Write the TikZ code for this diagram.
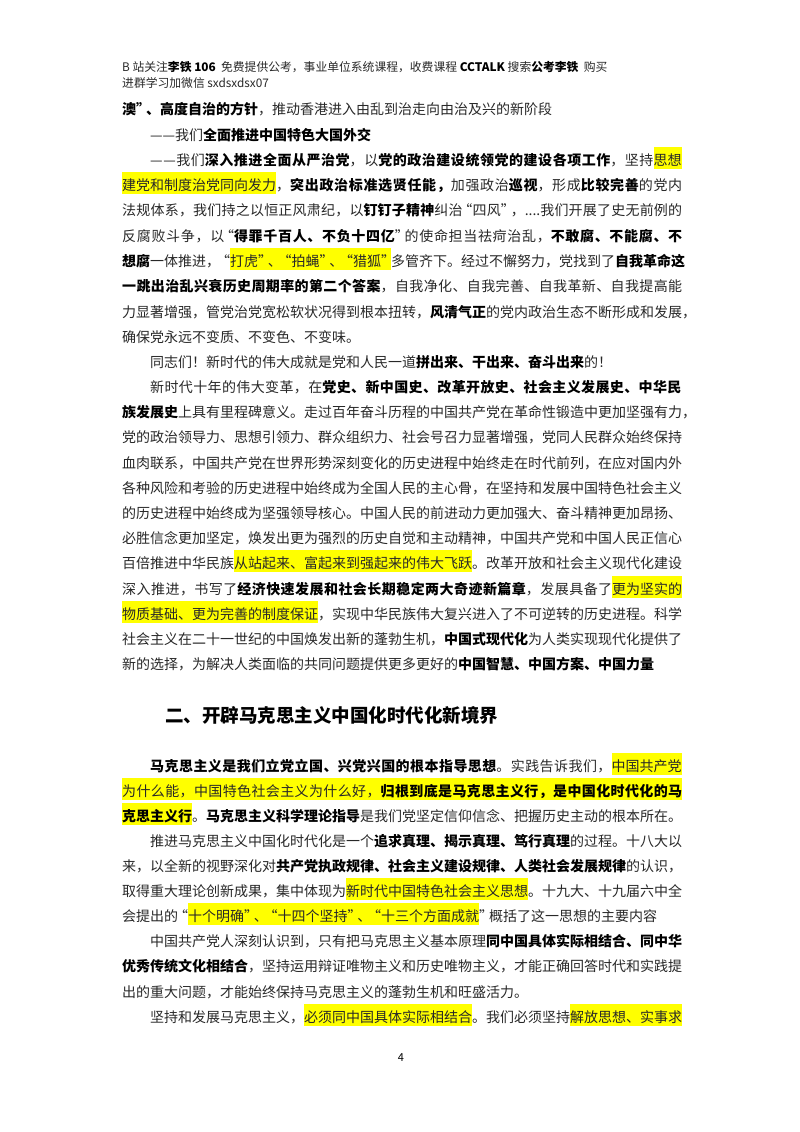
\documentclass[tikz,border=0pt]{standalone}
\usepackage{fontspec}
\setmainfont{Noto Sans CJK SC}
\XeTeXinterchartokenstate=1
\newXeTeXintercharclass\cjkcls
\count255="4E00
\loop\ifnum\count255<"A000 \XeTeXcharclass\count255=\cjkcls \advance\count255 by 1 \repeat
\count255="3000
\loop\ifnum\count255<"3040 \XeTeXcharclass\count255=\cjkcls \advance\count255 by 1 \repeat
\count255="FF00
\loop\ifnum\count255<"FF60 \XeTeXcharclass\count255=\cjkcls \advance\count255 by 1 \repeat
\XeTeXcharclass"201C=\cjkcls \XeTeXcharclass"201D=\cjkcls \XeTeXcharclass"2014=\cjkcls
\XeTeXinterchartoks\cjkcls\cjkcls={\hskip0pt plus 3pt\relax}
\definecolor{hly}{RGB}{255,255,0}
\definecolor{txt}{RGB}{40,40,40}
\newcommand{\hlt}[1]{{\setlength{\fboxsep}{0pt}\colorbox{hly}{\rule[-3.5pt]{0pt}{22pt}#1}}}
\newcommand{\bb}[1]{{\bfseries\color{black}#1}}
\newcommand{\oq}{\hspace{-0.3em}“}
\newcommand{\cq}{”\hspace{-0.3em}}
\newcommand{\full}[1]{\hbox to 560pt{#1}}
\newcommand{\fulli}[1]{\hbox to 531.3pt{#1}}
\begin{document}
\begin{tikzpicture}[x=1pt,y=-1pt,
  ln/.style={anchor=base west,inner sep=0pt,text=txt,font=\fontsize{14.0pt}{25pt}\selectfont},
  hd/.style={anchor=base west,inner sep=0pt,text=txt,font=\fontsize{11.8pt}{14pt}\selectfont},
  ttl/.style={anchor=base west,inner sep=0pt,text=black,font=\fontsize{18.5pt}{22pt}\selectfont\bfseries}]
\useasboundingbox[fill=white] (0,0) rectangle (800,1132);
\def\L{122}\def\I{150}
\node[hd] (h1) at (\L,71) {B 站关注\bb{李铁 106} \ 免费提供公考，事业单位系统课程，收费课程 \bb{CCTALK} 搜索\bb{公考李铁} \ 购买};
\node[hd] (h2) at (\L,87) {进群学习加微信 sxdsxdsx07};
\node[ln] (l1) at (\L,114) {\bb{澳\cq、高度自治的方针}，推动香港进入由乱到治走向由治及兴的新阶段};
\node[ln] (l2) at (\I,140) {——我们\bb{全面推进中国特色大国外交}};
\node[ln] (l3) at (\I,165) {\fulli{——我们\bb{深入推进全面从严治党}，以\bb{党的政治建设统领党的建设各项工作}，坚持\hlt{思想}}};
\node[ln] (l4) at (\L,190) {\full{\hlt{建党和制度治党同向发力}，\bb{突出政治标准选贤任能，}加强政治\bb{巡视}，形成\bb{比较完善}的党内}};
\node[ln] (l5) at (\L,215) {\full{法规体系，我们持之以恒正风肃纪，以\bb{钉钉子精神}纠治\oq 四风\cq，....我们开展了史无前例的}};
\node[ln] (l6) at (\L,241) {\full{反腐败斗争，以\oq\bb{得罪千百人、不负十四亿}\cq 的使命担当祛疴治乱，\bb{不敢腐、不能腐、不}}};
\node[ln] (l7) at (\L,266) {\full{\bb{想腐}一体推进，\oq\hlt{打虎\cq、\oq 拍蝇\cq、\oq 猎狐\cq}多管齐下。经过不懈努力，党找到了\bb{自我革命这}}};
\node[ln] (l8) at (\L,291) {\full{\bb{一跳出治乱兴衰历史周期率的第二个答案}，自我净化、自我完善、自我革新、自我提高能}};
\node[ln] (l9) at (\L,317) {\full{力显著增强，管党治党宽松软状况得到根本扭转，\bb{风清气正}的党内政治生态不断形成和发展，}};
\node[ln] (l10) at (\L,342) {确保党永远不变质、不变色、不变味。};
\node[ln] (l11) at (\I,367) {同志们！新时代的伟大成就是党和人民一道\bb{拼出来、干出来、奋斗出来}的！};
\node[ln] (l12) at (\I,392) {\fulli{新时代十年的伟大变革，在\bb{党史、新中国史、改革开放史、社会主义发展史、中华民}}};
\node[ln] (l13) at (\L,417) {\full{\bb{族发展史}上具有里程碑意义。走过百年奋斗历程的中国共产党在革命性锻造中更加坚强有力，}};
\node[ln] (l14) at (\L,442) {\full{党的政治领导力、思想引领力、群众组织力、社会号召力显著增强，党同人民群众始终保持}};
\node[ln] (l15) at (\L,468) {\full{血肉联系，中国共产党在世界形势深刻变化的历史进程中始终走在时代前列，在应对国内外}};
\node[ln] (l16) at (\L,493) {\full{各种风险和考验的历史进程中始终成为全国人民的主心骨，在坚持和发展中国特色社会主义}};
\node[ln] (l17) at (\L,518) {\full{的历史进程中始终成为坚强领导核心。中国人民的前进动力更加强大、奋斗精神更加昂扬、}};
\node[ln] (l18) at (\L,543) {\full{必胜信念更加坚定，焕发出更为强烈的历史自觉和主动精神，中国共产党和中国人民正信心}};
\node[ln] (l19) at (\L,568) {\full{百倍推进中华民族\hlt{从站起来、富起来到强起来的伟大飞跃}。改革开放和社会主义现代化建设}};
\node[ln] (l20) at (\L,594) {\full{深入推进，书写了\bb{经济快速发展和社会长期稳定两大奇迹新篇章}，发展具备了\hlt{更为坚实的}}};
\node[ln] (l21) at (\L,619) {\full{\hlt{物质基础、更为完善的制度保证}，实现中华民族伟大复兴进入了不可逆转的历史进程。科学}};
\node[ln] (l22) at (\L,644) {\full{社会主义在二十一世纪的中国焕发出新的蓬勃生机，\bb{中国式现代化}为人类实现现代化提供了}};
\node[ln] (l23) at (\L,669) {新的选择，为解决人类面临的共同问题提供更多更好的\bb{中国智慧、中国方案、中国力量}};
\node[ttl] (t) at (165,722) {二、开辟马克思主义中国化时代化新境界};
\node[ln] (m1) at (\I,771) {\fulli{\bb{马克思主义是我们立党立国、兴党兴国的根本指导思想}。实践告诉我们，\hlt{中国共产党}}};
\node[ln] (m2) at (\L,796) {\hlt{\full{为什么能，中国特色社会主义为什么好，\bb{归根到底是马克思主义行，是中国化时代化的马}}}};
\node[ln] (m3) at (\L,821) {\full{\hlt{\bb{克思主义行}}。\bb{马克思主义科学理论指导}是我们党坚定信仰信念、把握历史主动的根本所在。}};
\node[ln] (m4) at (\I,846) {\fulli{推进马克思主义中国化时代化是一个\bb{追求真理、揭示真理、笃行真理}的过程。十八大以}};
\node[ln] (m5) at (\L,871) {\full{来，以全新的视野深化对\bb{共产党执政规律、社会主义建设规律、人类社会发展规律}的认识，}};
\node[ln] (m6) at (\L,896) {\full{取得重大理论创新成果，集中体现为\hlt{新时代中国特色社会主义思想}。十九大、十九届六中全}};
\node[ln] (m7) at (\L,921) {会提出的\oq\hlt{十个明确\cq、\oq 十四个坚持\cq、\oq 十三个方面成就}\cq 概括了这一思想的主要内容};
\node[ln] (m8) at (\I,946) {\fulli{中国共产党人深刻认识到，只有把马克思主义基本原理\bb{同中国具体实际相结合、同中华}}};
\node[ln] (m9) at (\L,971) {\full{\bb{优秀传统文化相结合}，坚持运用辩证唯物主义和历史唯物主义，才能正确回答时代和实践提}};
\node[ln] (m10) at (\L,997) {出的重大问题，才能始终保持马克思主义的蓬勃生机和旺盛活力。};
\node[ln] (m11) at (\I,1022) {\fulli{坚持和发展马克思主义，\hlt{必须同中国具体实际相结合}。我们必须坚持\hlt{解放思想、实事求}}};
\node[anchor=base,inner sep=0pt,font=\fontsize{11pt}{13pt}\selectfont] (pg) at (401,1061) {4};
\end{tikzpicture}
\end{document}
